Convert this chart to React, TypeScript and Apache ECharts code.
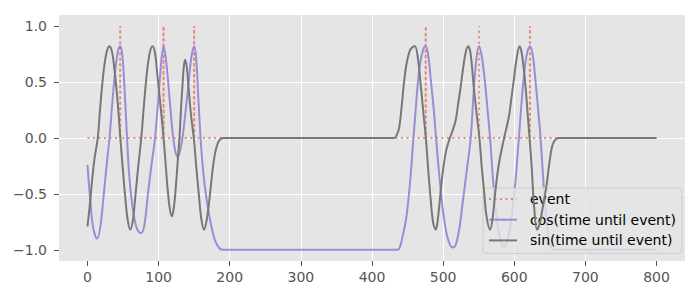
import React, { useEffect, useRef } from "react";
import * as echarts from "echarts";

const xTicks = [0, 100, 200, 300, 400, 500, 600, 700, 800];
const yTicks = [-1, -0.5, 0, 0.5, 1];
const eventTimes = [46, 107, 150, 475.5, 550.5, 622];
const seriesNames = ["event", "cos(time until event)", "sin(time until event)"];

const cosPoints: number[][] = [
  [0, -0.24], [4, -0.56], [8, -0.8], [13.5, -0.9], [18, -0.8], [23, -0.5], [27, -0.24],
  [31, 0.0], [35, 0.32], [39, 0.6], [43, 0.78], [46, 0.82], [49, 0.74], [52, 0.46],
  [55.6, 0.0], [59, -0.36], [63, -0.6], [68, -0.78], [72, -0.84], [75.6, -0.85],
  [80, -0.78], [85, -0.5], [90, -0.24], [95, 0.0], [101, 0.46], [104, 0.7], [107, 0.82],
  [110, 0.72], [114, 0.46], [118, 0.16], [121, -0.02], [124, -0.13], [127, -0.17],
  [130, -0.12], [133.5, 0.0], [138, 0.24], [142, 0.48], [146, 0.72], [150, 0.82],
  [153, 0.7], [156, 0.34], [159, 0.0], [162, -0.25], [166, -0.48], [172, -0.72],
  [179, -0.91], [186, -0.99], [192, -1.0], [436, -1.0], [440, -0.96], [443, -0.88],
  [447, -0.76], [450, -0.62], [454, -0.36], [458, -0.02], [461, 0.22], [464, 0.46],
  [468, 0.68], [472, 0.79], [475.5, 0.82], [479, 0.74], [483, 0.5], [487, 0.24],
  [490, 0.0], [495, -0.36], [500, -0.66], [505, -0.86], [510, -0.96], [514, -0.98],
  [518, -0.95], [523, -0.8], [528, -0.55], [533, -0.3], [538.8, 0.0], [543, 0.42],
  [547, 0.72], [550.5, 0.82], [554, 0.74], [558, 0.55], [562, 0.28], [566, 0.0],
  [571, -0.44], [576, -0.75], [581, -0.92], [585.4, -0.97], [590, -0.92], [595, -0.76],
  [600, -0.5], [606.5, 0.0], [610, 0.3], [614, 0.58], [618, 0.76], [622, 0.82],
  [626, 0.74], [630, 0.5], [634, 0.22], [637, 0.0], [641, -0.4], [645, -0.72],
  [649, -0.92], [653, -0.99], [657, -1.0], [800, -1.0],
];

const sinPoints: number[][] = [
  [0, -0.79], [3, -0.62], [6.5, -0.38], [10, -0.18], [14.5, 0.0], [17.5, 0.24],
  [20.5, 0.46], [24, 0.66], [27.5, 0.78], [31, 0.82], [34.5, 0.77], [37.5, 0.64],
  [40.5, 0.46], [43.5, 0.24], [46.2, 0.0], [49.5, -0.26], [53, -0.52], [56.5, -0.73],
  [60.2, -0.82], [64, -0.73], [67.2, -0.53], [71, -0.28], [75.6, 0.0], [79.5, 0.3],
  [83.5, 0.58], [87.5, 0.76], [91.5, 0.82], [95, 0.76], [98, 0.58], [100, 0.46],
  [103.5, 0.24], [107, 0.0], [110, -0.24], [112.5, -0.44], [115.5, -0.62], [118.6, -0.7],
  [121.5, -0.62], [124.2, -0.44], [127, -0.2], [129.3, 0.0], [131.5, 0.26], [133.5, 0.46],
  [135.5, 0.64], [137.2, 0.7], [139.5, 0.64], [142, 0.46], [146, 0.18], [149.5, 0.0],
  [153, -0.26], [156.5, -0.5], [160, -0.72], [164, -0.82], [168, -0.72], [172.3, -0.5],
  [176, -0.28], [179.3, -0.14], [183, -0.05], [187, -0.01], [192, 0.0], [431, 0.0],
  [435, 0.03], [438.4, 0.1], [442, 0.3], [445.4, 0.52], [449, 0.68], [453, 0.78],
  [456.5, 0.81], [460.3, 0.82], [464, 0.74], [468.7, 0.46], [472, 0.24], [475.7, 0.0],
  [479, -0.28], [482.5, -0.55], [486, -0.76], [489.7, -0.82], [493, -0.7], [496.5, -0.48],
  [500, -0.28], [504, -0.12], [508.4, -0.02], [513, 0.06], [517.7, 0.16], [521, 0.3],
  [524.7, 0.46], [528, 0.62], [531.5, 0.76], [535, 0.82], [538.5, 0.76], [543, 0.46],
  [547, 0.22], [551, 0.0], [554, -0.24], [557.4, -0.47], [561, -0.7], [566, -0.82],
  [569.5, -0.72], [573, -0.5], [578.4, -0.23], [585.4, -0.01], [592.4, 0.19], [596, 0.36],
  [599.4, 0.52], [603, 0.7], [607.4, 0.82], [611, 0.74], [615.8, 0.46], [619, 0.2],
  [621.5, 0.0], [624.5, -0.26], [627.5, -0.58], [632, -0.82], [636, -0.76], [640, -0.62],
  [645, -0.44], [649, -0.24], [653, -0.08], [657, -0.02], [662, 0.0], [800, 0.0],
];

const timeStart = 0;
const timeEnd = 800;

const FONT = "DejaVu Sans";

function fmtY(v: number): string {
  return (v < 0 ? "\u2212" : "") + Math.abs(v).toFixed(1);
}

export default function App() {
  const ref = useRef<HTMLDivElement>(null);
  useEffect(() => {
    if (!ref.current) return;
    const chart = echarts.init(ref.current, null, { renderer: "svg" });

    const eventPoints: number[][] = [[timeStart, 0]];
    eventTimes.forEach((e) => {
      eventPoints.push([e, 0], [e, 1], [e, 0]);
    });
    eventPoints.push([timeEnd, 0]);

    const option: any = {
      animation: false,
      backgroundColor: "#ffffff",
      grid: {
        left: 59,
        right: 15,
        top: 15,
        bottom: 39,
        show: true,
        backgroundColor: "#E5E5E5",
        borderWidth: 0,
      },
      xAxis: {
        type: "value",
        min: -40,
        max: 840,
        splitNumber: 9,
        minInterval: 100,
        maxInterval: 100,
        axisLine: { show: false, onZero: false },
        axisTick: {
          show: true,
          length: 5,
          lineStyle: { color: "#555555", width: 1 },
          customValues: xTicks,
        },
        axisLabel: {
          customValues: xTicks,
          margin: 9,
          color: "#555555",
          fontFamily: FONT,
          fontSize: 14,
          formatter: (v: number) => String(v),
        },
        splitLine: {
          show: true,
          showMinLine: false,
          showMaxLine: false,
          lineStyle: { color: "#ffffff", width: 1 },
        },
      },
      yAxis: {
        type: "value",
        min: -1.1,
        max: 1.1,
        splitNumber: 5,
        minInterval: 0.5,
        maxInterval: 0.5,
        axisLine: { show: false, onZero: false },
        axisTick: {
          show: true,
          length: 5,
          lineStyle: { color: "#555555", width: 1 },
          customValues: yTicks,
        },
        axisLabel: {
          customValues: yTicks,
          margin: 12,
          color: "#555555",
          fontFamily: FONT,
          fontSize: 14,
          formatter: (v: number) => fmtY(v),
        },
        splitLine: {
          show: true,
          showMinLine: false,
          showMaxLine: false,
          lineStyle: { color: "#ffffff", width: 1 },
        },
      },
      legend: {
        data: seriesNames,
        orient: "vertical",
        left: 483,
        top: 188,
        itemWidth: 28,
        itemHeight: 14,
        itemGap: 6.7,
        padding: [4, 6, 6, 5],
        backgroundColor: "rgba(229,229,229,0.8)",
        borderColor: "#cccccc",
        borderWidth: 1,
        borderRadius: 3,
        itemStyle: { opacity: 0 },
        formatter: (name: string) => "{g|}{t|" + name + "}",
        textStyle: {
          fontFamily: FONT,
          fontSize: 14,
          color: "#000000",
          rich: {
            g: { width: 8 },
            t: { fontFamily: FONT, fontSize: 14, color: "#000000" },
          },
        },
      },
      series: [
        {
          name: seriesNames[0],
          type: "line",
          data: eventPoints,
          symbol: "none",
          itemStyle: { opacity: 0, color: "#E24A33" },
          lineStyle: { color: "#E24A33", width: 2, type: [2, 3.5], opacity: 0.6 },
          z: 2,
        },
        {
          name: seriesNames[1],
          type: "line",
          data: cosPoints,
          symbol: "none",
          smooth: 0.35,
          itemStyle: { opacity: 0, color: "#988ED5" },
          lineStyle: { color: "#988ED5", width: 2 },
          z: 3,
        },
        {
          name: seriesNames[2],
          type: "line",
          data: sinPoints,
          symbol: "none",
          smooth: 0.35,
          itemStyle: { opacity: 0, color: "#777777" },
          lineStyle: { color: "#777777", width: 2 },
          z: 4,
        },
      ],
    };
    chart.setOption(option);
    return () => chart.dispose();
  }, []);
  return (
    <div
      ref={ref}
      style={{ position: "fixed", left: 0, top: 0, width: 700, height: 300 }}
    />
  );
}
